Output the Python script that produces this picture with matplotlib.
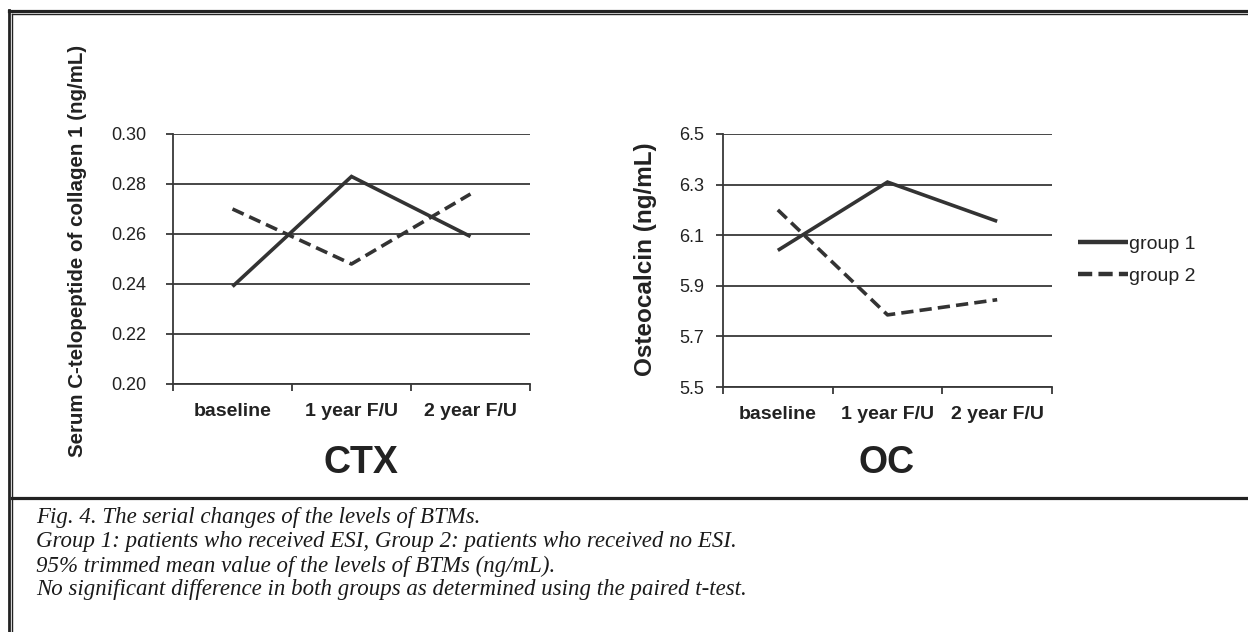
import matplotlib
matplotlib.use("Agg")
import matplotlib.pyplot as plt
from matplotlib import font_manager
from matplotlib.lines import Line2D

# ---- data -------------------------------------------------------------
categories = ["baseline", "1 year F/U", "2 year F/U"]
series_names = ["group 1", "group 2"]

ctx_group1 = [0.239, 0.283, 0.259]
ctx_group2 = [0.270, 0.248, 0.276]
ctx_ticks = [0.20, 0.22, 0.24, 0.26, 0.28, 0.30]
ctx_ticklabels = ["0.20", "0.22", "0.24", "0.26", "0.28", "0.30"]

oc_group1 = [6.04, 6.31, 6.155]
oc_group2 = [6.20, 5.785, 5.845]
oc_ticks = [5.5, 5.7, 5.9, 6.1, 6.3, 6.5]
oc_ticklabels = ["5.5", "5.7", "5.9", "6.1", "6.3", "6.5"]

panel_titles = ["CTX", "OC"]
ylabels = ["Serum C-telopeptide of collagen 1 (ng/mL)", "Osteocalcin (ng/mL)"]

caption_lines = [
    "Fig. 4. The serial changes of the levels of BTMs.",
    "Group 1: patients who received ESI, Group 2: patients who received no ESI.",
    "95% trimmed mean value of the levels of BTMs (ng/mL).",
    "No significant difference in both groups as determined using the paired t-test.",
]

# ---- styling ----------------------------------------------------------
W, H = 1248, 632
DPI = 100
INK = "#333333"
GRID = "#383838"

def have_font(name):
    try:
        font_manager.findfont(font_manager.FontProperties(family=name),
                              fallback_to_default=False)
        return True
    except Exception:
        return False

SANS = "Liberation Sans"
NARROW = "Liberation Sans Narrow" if have_font("Liberation Sans Narrow") else SANS
SERIF = "Liberation Serif"

fig = plt.figure(figsize=(W / DPI, H / DPI), dpi=DPI)
fig.patch.set_facecolor("white")


def px_axes(x0, x1, ytop, ybot):
    return fig.add_axes([x0 / W, (H - ybot) / H, (x1 - x0) / W, (ybot - ytop) / H])


def draw_panel(ax, g1, g2, ticks, ticklabels, ypad):
    x = list(range(len(categories)))
    ax.set_xlim(-0.5, len(categories) - 0.5)
    ax.set_ylim(ticks[0], ticks[-1])
    ax.set_yticks(ticks)
    ax.set_yticklabels(ticklabels, fontsize=13, family=SANS, color="#222222")
    for t in ticks:
        ax.axhline(t, color=GRID, lw=1.3, zorder=1)
    # category boundaries as major ticks, labels on minor ticks
    ax.set_xticks([i - 0.5 for i in range(len(categories) + 1)])
    ax.set_xticklabels([])
    ax.set_xticks(x, minor=True)
    ax.set_xticklabels(categories, minor=True, fontsize=14, fontweight="bold",
                       family=SANS, color="#222222")
    ax.tick_params(axis="x", which="major", direction="out", length=5,
                   width=1.3, color=GRID)
    ax.tick_params(axis="x", which="minor", length=0, pad=13.5)
    ax.tick_params(axis="y", direction="out", length=5, width=1.3,
                   color=GRID, pad=ypad)
    for side in ("top", "right"):
        ax.spines[side].set_visible(False)
    for side in ("left", "bottom"):
        ax.spines[side].set_color(GRID)
        ax.spines[side].set_linewidth(1.3)
    ax.plot(x, g1, color=INK, lw=2.6, solid_capstyle="butt",
            solid_joinstyle="miter", zorder=3)
    ax.plot(x, g2, color=INK, lw=2.6, dashes=(3.4, 1.7),
            dash_capstyle="butt", solid_joinstyle="miter", zorder=3)


ax1 = px_axes(173, 530, 134, 384)
draw_panel(ax1, ctx_group1, ctx_group2, ctx_ticks, ctx_ticklabels, ypad=14)

ax2 = px_axes(723, 1052, 134, 387)
draw_panel(ax2, oc_group1, oc_group2, oc_ticks, oc_ticklabels, ypad=8.5)

# axis titles
fig.text(78 / W, 1 - 251 / H, ylabels[0], rotation=90, ha="center", va="center",
         fontsize=14.8, fontweight="bold", family=SANS, color="#222222")
fig.text(645 / W, 1 - 259 / H, ylabels[1], rotation=90, ha="center", va="center",
         fontsize=17.5, fontweight="bold", family=SANS, color="#222222")

# panel names
fig.text(361 / W, 1 - 463 / H, panel_titles[0], ha="center", va="center",
         fontsize=27, fontweight="bold", family=NARROW, color="#222222")
fig.text(887 / W, 1 - 463 / H, panel_titles[1], ha="center", va="center",
         fontsize=27, fontweight="bold", family=NARROW, color="#222222")

# legend
handles = [
    Line2D([], [], color=INK, lw=3.2, solid_capstyle="butt"),
    Line2D([], [], color=INK, lw=3.2, dashes=(3.2, 1.4), dash_capstyle="butt"),
]
fig.legend(handles, series_names, loc="center left",
           bbox_to_anchor=(1060 / W, 1 - 260 / H), frameon=False,
           prop={"family": SANS, "size": 14}, handlelength=2.6,
           handletextpad=0.05, labelspacing=0.75, labelcolor="#222222")

# caption
cap_y = [517, 541, 566, 590]
for line, yy in zip(caption_lines, cap_y):
    fig.text(36 / W, 1 - yy / H, line, ha="left", va="center", fontsize=16.5,
             style="italic", family=SERIF, color="#1a1a1a")

# frame: double rule at top and left, separator above caption
frame_color = "#222222"
fig.add_artist(Line2D([8.5 / W, 1], [1 - 10.8 / H] * 2, color=frame_color, lw=2.3,
                      transform=fig.transFigure))
fig.add_artist(Line2D([12.2 / W, 1], [1 - 14.3 / H] * 2, color=frame_color, lw=1.0,
                      transform=fig.transFigure))
fig.add_artist(Line2D([8.6 / W] * 2, [0, 1 - 9.7 / H], color=frame_color, lw=2.0,
                      transform=fig.transFigure))
fig.add_artist(Line2D([12.2 / W] * 2, [0, 1 - 13.8 / H], color=frame_color, lw=1.0,
                      transform=fig.transFigure))
fig.add_artist(Line2D([12.2 / W, 1], [1 - 497.5 / H] * 2, color=frame_color, lw=2.3,
                      transform=fig.transFigure))

fig.savefig("out.png", dpi=DPI, facecolor="white")
